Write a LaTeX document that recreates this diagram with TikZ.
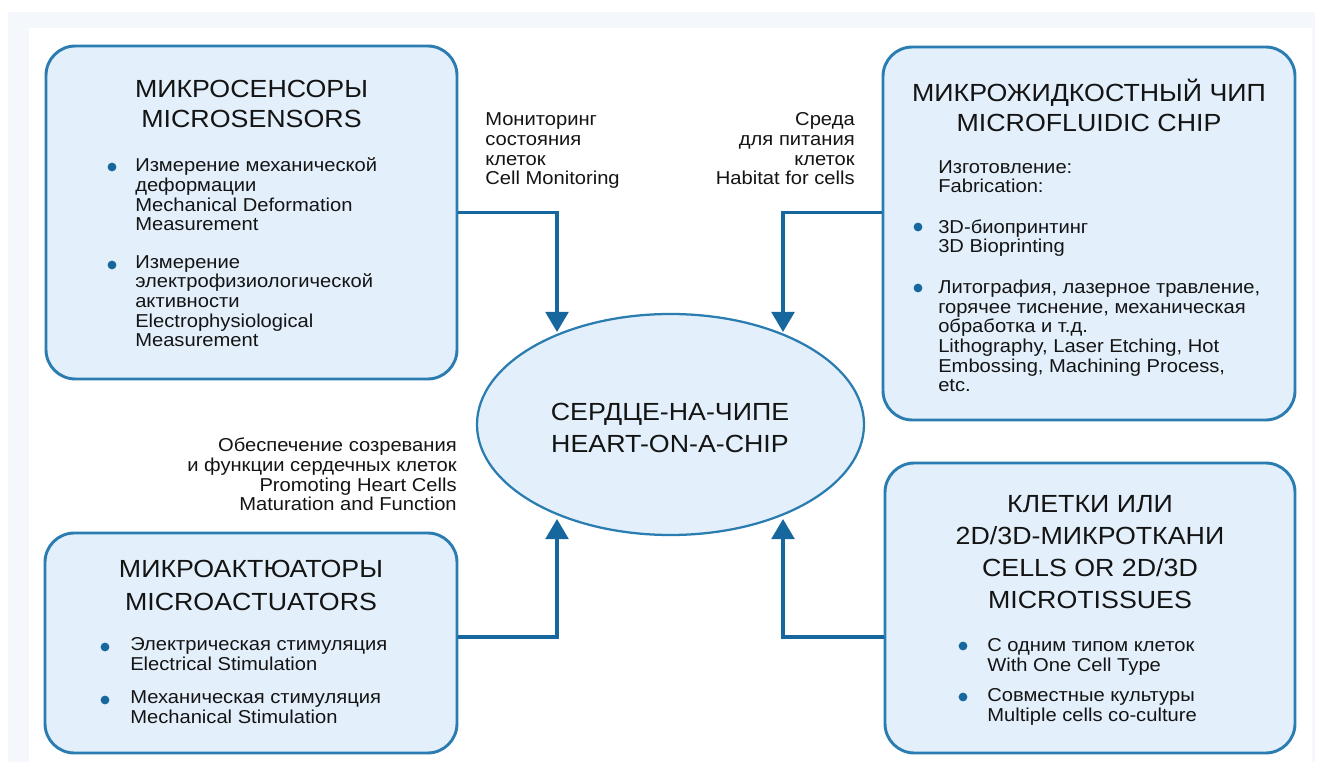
\documentclass[tikz,border=0pt]{standalone}
\usepackage{fontspec}
\setmainfont{Liberation Sans}[FakeStretch=1.08]
\usetikzlibrary{positioning, arrows.meta, shapes.geometric}
\definecolor{boxfill}{HTML}{E3F0FB}
\definecolor{boxline}{HTML}{2B7DB1}
\definecolor{arrowblue}{HTML}{17679F}
\definecolor{framegrey}{HTML}{F4F7FB}
\definecolor{txt}{HTML}{141414}
\newlength{\px}\setlength{\px}{0.75pt}

\begin{document}
\begin{tikzpicture}[x=\px, y=-\px,
    panel/.style={draw=boxline, line width=2.2pt, fill=boxfill, rounded corners=22pt, inner sep=0},
    heart/.style={ellipse, draw=boxline, line width=1.7pt, fill=boxfill, inner sep=0},
    title/.style={font=\fontsize{18.6}{23}\selectfont, align=center, anchor=base, text=txt, inner sep=0},
    item/.style={font=\fontsize{14}{14.8}\selectfont, align=left, anchor=base west, text=txt, inner sep=0},
    note/.style={font=\fontsize{14}{14.9}\selectfont, anchor=base west, align=left, text=txt, inner sep=0},
    conn/.style={draw=arrowblue, line width=2.5pt, -{Triangle[width=17pt,length=15pt]}},
    dot/.style={fill=arrowblue}
]
% frame
\useasboundingbox (0,0) rectangle (1317,762);
\fill[framegrey] (8,12) rectangle (1315,762);
\fill[white] (29,28) rectangle (1312,762);

% boxes
\node[panel, minimum width=411\px, minimum height=333\px] (sens) at (251.5,212.5) {};
\node[panel, minimum width=412\px, minimum height=373\px] (chip) at (1089,233.5) {};
\node[panel, minimum width=412\px, minimum height=220\px] (act) at (251,643) {};
\node[panel, minimum width=410\px, minimum height=290\px] (cells) at (1090,608) {};
\node[heart, minimum width=387\px, minimum height=221\px] (hoc) at (670.5,424.5) {};

% titles (placed at the last baseline)
\node[title] (sensT) at (251.5,128) {МИКРОСЕНСОРЫ\\MICROSENSORS};
\node[title] (chipT) at (1089,132) {МИКРОЖИДКОСТНЫЙ ЧИП\\MICROFLUIDIC CHIP};
\node[title, font=\fontsize{18.6}{24.5}\selectfont] (actT) at (251,610) {МИКРОАКТЮАТОРЫ\\MICROACTUATORS};
\node[title, font=\fontsize{18.6}{24}\selectfont] (cellsT) at (1090,608) {КЛЕТКИ ИЛИ\\2D/3D-МИКРОТКАНИ\\CELLS OR 2D/3D\\MICROTISSUES};
\node[title, font=\fontsize{18.6}{24.7}\selectfont] (hocT) at (670,453) {СЕРДЦЕ-НА-ЧИПЕ\\HEART-ON-A-CHIP};

% items
\node[item] (s1) at (135,231) {Измерение механической\\деформации\\Mechanical Deformation\\Measurement};
\node[item] (s2) at (135,347) {Измерение\\электрофизиологической\\активности\\Electrophysiological\\Measurement};
\node[item] (fab) at (938,193) {Изготовление:\\Fabrication:};
\node[item] (c1) at (938,253) {3D-биопринтинг\\3D Bioprinting};
\node[item] (c2) at (938,392) {Литография, лазерное травление,\\горячее тиснение, механическая\\обработка и т.д.\\Lithography, Laser Etching, Hot\\Embossing, Machining Process,\\etc.};
\node[item] (a1) at (130,670) {Электрическая стимуляция\\Electrical Stimulation};
\node[item] (a2) at (130,723) {Механическая стимуляция\\Mechanical Stimulation};
\node[item] (b1) at (987,671) {С одним типом клеток\\With One Cell Type};
\node[item] (b2) at (987,721) {Совместные культуры\\Multiple cells co-culture};

% bullets
\foreach \bx/\by in {112/167, 112/265, 918/227, 918/288, 105/647, 105/700, 963/646, 963/697}
    \fill[dot] (\bx,\by) circle[radius=3.3pt];

% connector notes
\node[note] (mon) at (485,185) {Мониторинг\\состояния\\клеток\\Cell Monitoring};
\node[note, anchor=base east, align=right] (hab) at (855,185) {Среда\\для питания\\клеток\\Habitat for cells};
\node[note, anchor=base east, align=right] (mat) at (457,511) {Обеспечение созревания\\и функции сердечных клеток\\Promoting Heart Cells\\Maturation and Function};

% connectors
\coordinate (k1) at (557,332);
\coordinate (k2) at (783,332);
\coordinate (k3) at (557,519);
\coordinate (k4) at (783,519);
\draw[conn] (sens.east) -| (k1);
\draw[conn] (chip.west |- sens.east) -| (k2);
\draw[conn] ([yshift=4.5pt]act.east) -| (k3);
\draw[conn] ([yshift=-29\px]cells.west) -| (k4);
\end{tikzpicture}
\end{document}
